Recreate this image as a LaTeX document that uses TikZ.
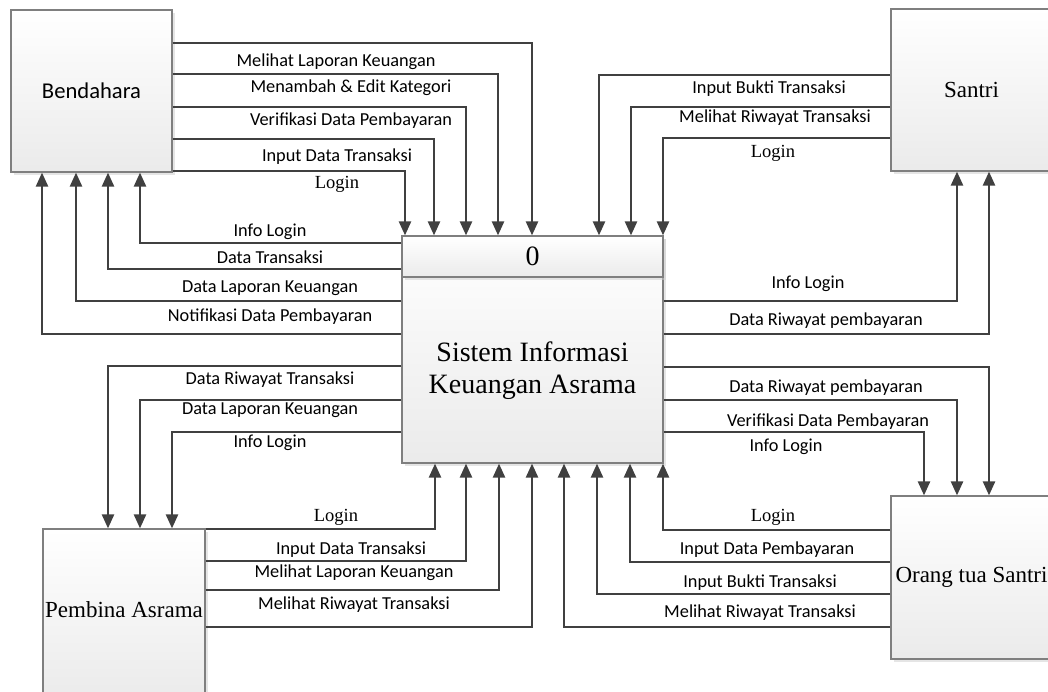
\documentclass[tikz,border=0pt]{standalone}
\usepackage{fontspec}
\setmainfont{Liberation Serif}
\newfontfamily\labfont{Carlito}
\usetikzlibrary{arrows.meta,shadows}

\definecolor{linegray}{HTML}{404040}
\definecolor{boxgray}{HTML}{7F7F7F}

\tikzset{
  entity/.style={draw=boxgray, line width=1.2pt, top color=white, bottom color=black!8,
    drop shadow={shadow xshift=2.5pt, shadow yshift=-2.5pt, fill=black!20, opacity=0.5},
    inner sep=0pt, align=center, font=\fontsize{23}{26}\selectfont},
  flow/.style={draw=linegray, line width=2.4pt, -{Triangle[length=14pt,width=12pt]}},
  lbl/.style={font=\labfont\fontsize{18.3}{20}\selectfont, inner sep=0pt},
  slbl/.style={font=\fontsize{18.5}{20}\selectfont, inner sep=0pt},
}

\begin{document}
\begin{tikzpicture}[x=1pt,y=-1pt]
\path[use as bounding box] (0,0) rectangle (1048,691);
\clip (0,0) rectangle (1048,691);

% entitas luar
\node[entity, minimum width=161pt, minimum height=162pt,
  font=\labfont\fontsize{22.6}{26}\selectfont] (bend) at (91.5,91) {Bendahara};
\node[entity, minimum width=161pt, minimum height=162pt] (santri) at (971.5,90) {Santri};
\node[entity, minimum width=162pt, minimum height=172pt] (pembina) at (124,615) {};
\node[font=\fontsize{23}{26}\selectfont] (pembina-t) at (124,610) {Pembina Asrama};
\node[entity, minimum width=161pt, minimum height=163pt] (ortu) at (971.5,577.5) {Orang tua Santri};

% proses 0
\node[entity, minimum width=261pt, minimum height=227pt] (proc) at (532.5,349.5) {};
\node[entity, drop shadow={opacity=0}, minimum width=261pt, minimum height=41pt,
  anchor=north, font=\fontsize{28}{32}\selectfont] (phead) at (proc.north) {0};
\node[font=\fontsize{28}{32}\selectfont, align=center] (ptitle) at (532.5,371)
  {Sistem Informasi\\Keuangan Asrama};

% Bendahara -> sistem
\foreach \y/\x/\lab/\lx/\ly in {43/532/{Melihat Laporan Keuangan}/336/62,
  74/498/{Menambah \& Edit Kategori}/351/88,
  107/466/{Verifikasi Data Pembayaran}/351/121,
  139/434/{Input Data Transaksi}/337/157}
{
\draw[flow] (bend.east |- 0,\y) -| (proc.north -| \x,0);
\node[lbl] (bl\y) at (\lx,\ly) {\lab};
}
\draw[flow] (bend.east |- 0,171) -| (proc.north -| 405,0);
\node[slbl] (bl171) at (337,184) {Login};

% sistem -> Bendahara
\foreach \y/\x/\lab/\ly in {243/140/{Info Login}/232,
  269/108/{Data Transaksi}/257,
  301/76/{Data Laporan Keuangan}/288,
  334/42/{Notifikasi Data Pembayaran}/317}
{
\draw[flow] (proc.west |- 0,\y) -| (bend.south -| \x,0);
\node[lbl] (bk\y) at (270,\ly) {\lab};
}

% sistem -> Pembina Asrama
\foreach \y/\x/\lab/\ly in {366/108/{Data Riwayat Transaksi}/380,
  400/140/{Data Laporan Keuangan}/410,
  432/172/{Info Login}/443}
{
\draw[flow] (proc.west |- 0,\y) -| (pembina.north -| \x,0);
\node[lbl] (pk\y) at (270,\ly) {\lab};
}

% Pembina Asrama -> sistem
\draw[flow] (pembina.east |- 0,529) -| (proc.south -| 435,0);
\node[slbl] (pl529) at (336,517) {Login};
\foreach \y/\x/\lab/\lx/\ly in {561/466/{Input Data Transaksi}/351/550,
  590/499/{Melihat Laporan Keuangan}/354/573,
  627/532/{Melihat Riwayat Transaksi}/354/605}
{
\draw[flow] (pembina.east |- 0,\y) -| (proc.south -| \x,0);
\node[lbl] (pl\y) at (\lx,\ly) {\lab};
}

% Santri -> sistem
\foreach \y/\x/\lab/\lx/\ly in {75/599/{Input Bukti Transaksi}/769/89,
  107/631/{Melihat Riwayat Transaksi}/775/118}
{
\draw[flow] (santri.west |- 0,\y) -| (proc.north -| \x,0);
\node[lbl] (sl\y) at (\lx,\ly) {\lab};
}
\draw[flow] (santri.west |- 0,138) -| (proc.north -| 663,0);
\node[slbl] (sl138) at (773,153) {Login};

% sistem -> Santri
\draw[flow] (proc.east |- 0,301) -| (santri.south -| 957,0);
\node[lbl] (sk301) at (808,284) {Info Login};
\draw[flow] (proc.east |- 0,334) -| (santri.south -| 989,0);
\node[lbl] (sk334) at (826,321) {Data Riwayat pembayaran};

% sistem -> Orang tua Santri
\foreach \y/\x/\lab/\lx/\ly in {367/989/{Data Riwayat pembayaran}/826/388,
  400/957/{Verifikasi Data Pembayaran}/828/422,
  432/924/{Info Login}/786/447}
{
\draw[flow] (proc.east |- 0,\y) -| (ortu.north -| \x,0);
\node[lbl] (ok\y) at (\lx,\ly) {\lab};
}

% Orang tua Santri -> sistem
\draw[flow] (ortu.west |- 0,530) -| (proc.south -| 663,0);
\node[slbl] (ol530) at (773,517) {Login};
\foreach \y/\x/\lab/\lx/\ly in {562/630/{Input Data Pembayaran}/767/550,
  594/597/{Input Bukti Transaksi}/760/583,
  627/564/{Melihat Riwayat Transaksi}/760/613}
{
\draw[flow] (ortu.west |- 0,\y) -| (proc.south -| \x,0);
\node[lbl] (ol\y) at (\lx,\ly) {\lab};
}
\end{tikzpicture}
\end{document}
